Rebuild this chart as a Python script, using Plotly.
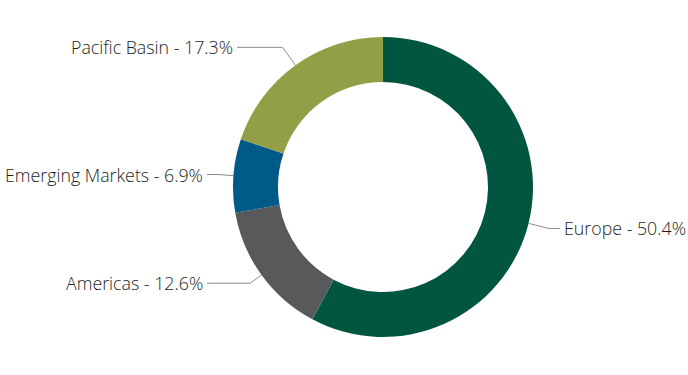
import math
import plotly.graph_objects as go

# ---- data ----
regions = ["Europe", "Americas", "Emerging Markets", "Pacific Basin"]
weights = [50.4, 12.6, 6.9, 17.3]
colors = ["#02553f", "#58595b", "#005a87", "#939f47"]

# ---- layout / style ----
W, H = 688, 375
CX, CY, R = 383, 187, 150          # pie centre and outer radius in px
HOLE = 0.70
bend_r = [171, 164, 165, 172]       # leader-line bend radius per label (px)
label_end_x = [560, 207, 207, 237]  # where horizontal leader segment ends (px)
font_family = "Open Sans"
font_size = 17.8
text_color = "#1e1e1e"
line_color = "#8c8c8c"

fig = go.Figure()
fig.add_trace(go.Pie(
    labels=regions,
    values=weights,
    marker=dict(colors=colors, line=dict(width=0)),
    hole=HOLE,
    sort=False,
    direction="clockwise",
    rotation=0,
    textinfo="none",
    hoverinfo="label+value",
    showlegend=False,
    domain=dict(x=[(CX - R) / W - 0.1, (CX + R) / W + 0.1],
                y=[1 - (CY + R) / H, 1 - (CY - R) / H]),
))

def px2paper(x, y):
    return x / W, 1 - y / H

total = sum(weights)
cum = 0.0
shapes, annotations = [], []
for i, (name, val) in enumerate(zip(regions, weights)):
    mid = (cum + val / 2) / total * 2 * math.pi
    cum += val
    sx, sy = CX + R * math.sin(mid), CY - R * math.cos(mid)
    bx, by = CX + bend_r[i] * math.sin(mid), CY - bend_r[i] * math.cos(mid)
    ex, ey = label_end_x[i], by
    p = [px2paper(*pt) for pt in [(sx, sy), (bx, by), (ex, ey)]]
    path = "M {} {} L {} {} L {} {}".format(p[0][0], p[0][1], p[1][0], p[1][1], p[2][0], p[2][1])
    shapes.append(dict(type="path", xref="paper", yref="paper", path=path,
                       line=dict(color=line_color, width=1)))
    right_side = ex > CX
    tx = ex + 2 if right_side else ex - 2
    ax, ay = px2paper(tx, ey)
    annotations.append(dict(
        x=ax, y=ay, xref="paper", yref="paper", showarrow=False,
        text=f"{name} - {val}%",
        xanchor="left" if right_side else "right", yanchor="middle",
        font=dict(family=font_family, size=font_size, color=text_color, weight=300),
    ))

fig.update_layout(
    width=W, height=H,
    margin=dict(l=0, r=0, t=0, b=0),
    paper_bgcolor="white", plot_bgcolor="white",
    shapes=shapes, annotations=annotations,
)

fig.write_html("out.html")
